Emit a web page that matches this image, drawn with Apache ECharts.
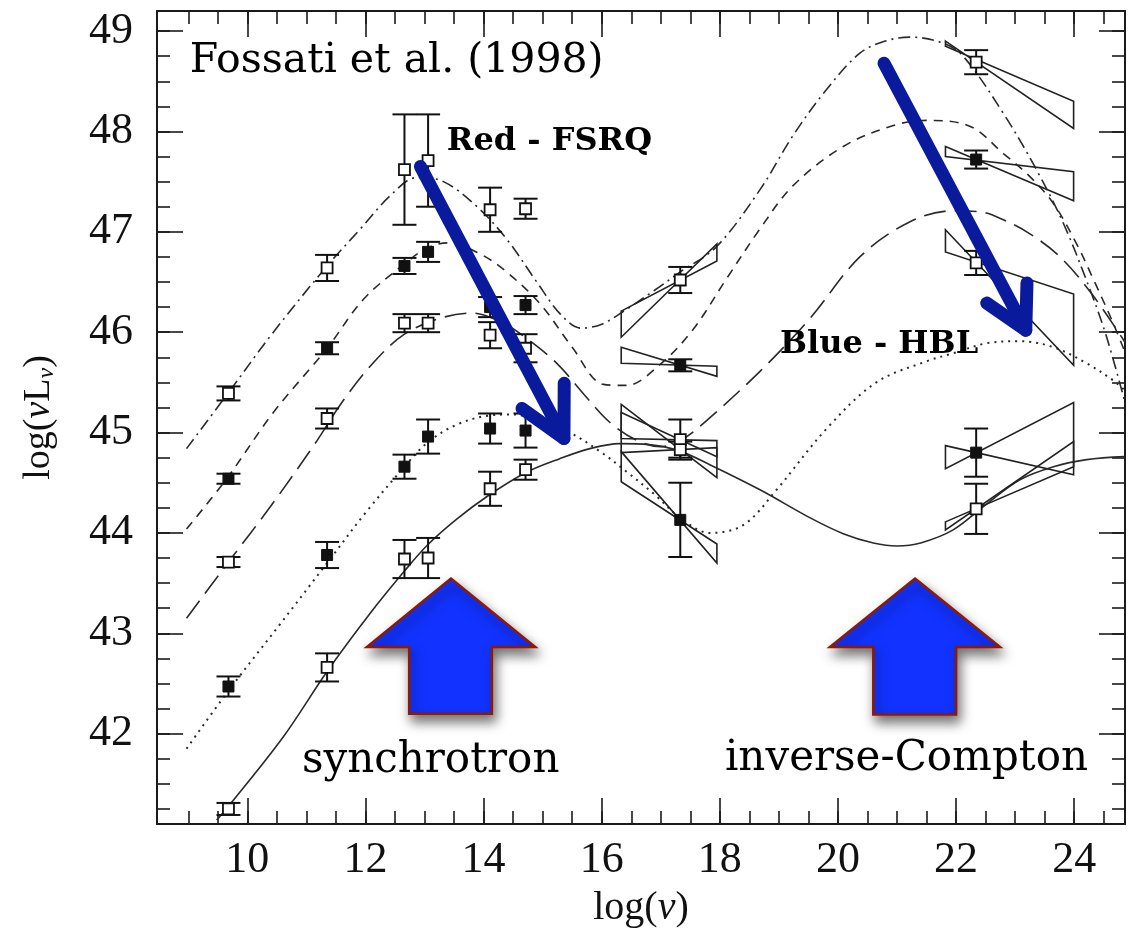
<!DOCTYPE html>
<html><head><meta charset="utf-8">
<script src="https://cdn.jsdelivr.net/npm/echarts@6/dist/echarts.min.js"></script>
<style>html,body{margin:0;padding:0;background:#fff}#c{width:1128px;height:936px}</style>
</head><body><div id="c"></div>
<script>
// ---------- axis ticks ----------
const xMajorTicks = [10, 12, 14, 16, 18, 20, 22, 24];
const xMinorTicks = [9, 9.5, 10, 10.5, 11, 11.5, 12, 12.5, 13, 13.5, 14, 14.5, 15, 15.5, 16, 16.5, 17, 17.5, 18, 18.5, 19, 19.5, 20, 20.5, 21, 21.5, 22, 22.5, 23, 23.5, 24, 24.5];
const yMajorTicks = [42, 43, 44, 45, 46, 47, 48, 49];
const yMinorTicks = [41.25, 41.5, 41.75, 42, 42.25, 42.5, 42.75, 43, 43.25, 43.5, 43.75, 44, 44.25, 44.5, 44.75, 45, 45.25, 45.5, 45.75, 46, 46.25, 46.5, 46.75, 47, 47.25, 47.5, 47.75, 48, 48.25, 48.5, 48.75, 49];

// ---------- model curves [log nu, log nuL_nu] ----------
const curveDashDot = [[8.97,44.84],[9.67,45.39],[10.44,46.0],[11.35,46.66],[11.9,47.02],[12.42,47.36],[12.87,47.54],[13.32,47.5],[13.89,47.25],[14.4,46.92],[14.9,46.5],[15.3,46.18],[15.65,46.04],[16.0,46.08],[16.4,46.22],[16.9,46.42],[17.33,46.6],[17.94,46.85],[18.68,47.42],[19.24,47.96],[19.81,48.42],[20.37,48.78],[20.8,48.9],[21.22,48.94],[21.78,48.88],[22.12,48.75],[22.8,48.18],[23.36,47.62],[23.82,47.08],[24.27,46.42],[24.55,45.95],[24.86,45.3]];
const curveShortDash = [[8.97,44.04],[9.65,44.54],[10.44,45.2],[11.35,45.84],[11.97,46.33],[12.66,46.68],[13.05,46.84],[13.4,46.89],[13.94,46.78],[14.39,46.6],[14.96,46.28],[15.5,45.85],[16.03,45.48],[16.42,45.47],[16.99,45.68],[17.55,46.03],[18.11,46.53],[18.68,47.03],[19.24,47.46],[20.09,47.85],[20.94,48.06],[21.5,48.11],[22.24,48.05],[22.8,47.78],[23.25,47.55],[23.65,47.28],[24.04,46.88],[24.33,46.52],[24.66,46.09],[24.86,45.8]];
const curveLongDash = [[8.97,43.15],[9.68,43.71],[10.4,44.27],[11.18,44.92],[11.6,45.3],[12.14,45.7],[12.66,45.98],[13.27,46.14],[13.8,46.19],[14.3,46.1],[14.68,45.96],[15.24,45.69],[15.7,45.38],[16.14,45.1],[16.6,44.92],[17.0,44.86],[17.33,44.92],[17.66,45.06],[18.68,45.61],[19.53,46.14],[20.37,46.75],[21.22,47.1],[21.95,47.21],[22.4,47.2],[22.8,47.12],[23.25,46.98],[23.76,46.75],[24.3,46.38],[24.86,45.9]];
const curveDotted = [[8.97,41.85],[9.67,42.42],[10.5,43.05],[11.35,43.7],[12.0,44.2],[12.66,44.66],[13.05,44.9],[13.55,45.08],[14.1,45.17],[14.5,45.18],[15.0,45.1],[15.46,45.0],[16.0,44.8],[16.42,44.61],[16.9,44.38],[17.33,44.15],[17.83,44.0],[18.4,44.08],[18.96,44.43],[19.81,45.04],[20.65,45.5],[21.5,45.71],[21.95,45.79],[22.52,45.89],[23.08,45.91],[23.65,45.85],[24.21,45.69],[24.66,45.52],[24.86,45.42]];
const curveSolid = [[9.48,41.14],[9.67,41.27],[10.61,41.97],[11.35,42.62],[12.08,43.2],[12.66,43.62],[13.05,43.88],[13.55,44.14],[14.1,44.38],[14.71,44.6],[15.29,44.74],[15.8,44.84],[16.3,44.89],[16.8,44.88],[17.3,44.82],[17.83,44.68],[18.68,44.43],[19.53,44.15],[20.1,43.99],[20.6,43.9],[21.0,43.87],[21.4,43.9],[21.95,44.03],[22.52,44.29],[23.08,44.53],[23.65,44.66],[24.21,44.73],[24.86,44.76]];

// ---------- data points [log nu, log nuL_nu, error] ----------
const pointsBin1Open = [[9.68,45.39,0.07],[11.35,46.64,0.13],[12.66,47.62,0.55],[13.06,47.71,0.46],[14.11,47.22,0.22],[14.71,47.23,0.10],[17.33,46.52,0.13],[22.34,48.69,0.12]];
const pointsBin2Filled = [[9.68,44.54,0.05],[11.35,45.84,0.06],[12.66,46.66,0.08],[13.06,46.80,0.10],[14.11,46.25,0.10],[14.71,46.27,0.09],[17.33,45.67,0.06],[22.34,47.72,0.09]];
const pointsBin3Open = [[9.68,43.71,0.05],[11.35,45.14,0.10],[12.66,46.09,0.09],[13.06,46.09,0.09],[14.11,45.97,0.13],[14.71,45.84,0.14],[17.33,44.93,0.20],[22.34,46.69,0.12]];
const pointsBin4Filled = [[9.68,42.47,0.10],[11.35,43.78,0.13],[12.66,44.66,0.12],[13.06,44.96,0.17],[14.11,45.04,0.15],[14.71,45.02,0.17],[17.33,44.13,0.37],[22.34,44.80,0.24]];
const pointsBin5Open = [[9.68,41.25,0.06],[11.35,42.66,0.14],[12.66,43.74,0.19],[13.06,43.75,0.20],[14.11,44.44,0.17],[14.71,44.63,0.10],[17.33,44.83,0.08],[22.34,44.24,0.25]];

// ---------- spectral bow-ties [nuLeft, nuRight, lineA left, lineA right, lineB left, lineB right] ----------
const bowtiesXray = [[16.33,17.95,46.21,46.71,45.95,46.88],[16.33,17.95,45.85,45.56,45.69,45.66],[16.33,17.95,45.20,44.76,44.94,44.92],[16.33,17.95,45.28,44.55,44.80,44.85],[16.33,17.95,44.81,43.70,44.51,43.89]];
const bowtiesGamma = [[21.82,23.99,48.90,48.03,48.85,48.30],[21.82,23.99,47.85,47.31,47.75,47.60],[21.82,23.99,47.02,45.67,46.80,46.38],[21.82,23.99,44.87,44.58,44.64,45.30],[21.82,23.99,44.11,44.66,44.03,44.91]];

// ---------- annotations (data coordinates) ----------
const arrowFSRQ = {start:[12.93,47.65], tip:[15.36,44.94], wingL:[14.65,45.24], wingR:[15.365,45.49]};
const arrowHBL = {start:[20.78,48.68], tip:[23.18,46.02], wingL:[22.52,46.29], wingR:[23.20,46.49]};
const bigArrowSync = {tip:[13.446,43.545], headBase:42.863, headL:12.024, headR:14.874, shaftL:12.740, shaftR:14.140, bottom:42.199};
const bigArrowIC = {tip:[21.304,43.545], headBase:42.863, headL:19.865, headR:22.743, shaftL:20.598, shaftR:22.0, bottom:42.192};
const labels = [
  {text:'Fossati et al. (1998)', at:[9.026,48.703], font:'41px "DejaVu Serif"'},
  {text:'Red - FSRQ', at:[13.378,47.90], font:'bold 32px "DejaVu Serif"'},
  {text:'Blue - HBL', at:[19.018,45.871], font:'bold 32px "DejaVu Serif"'},
  {text:'synchrotron', at:[10.923,41.727], font:'42px "DejaVu Serif"'},
  {text:'inverse-Compton', at:[18.086,41.743], font:'42px "DejaVu Serif"'}
];

const X_MIN = 8.47, X_MAX = 24.86, Y_MIN = 41.1, Y_MAX = 49.2;
const INK = '#1a1a1a';
const AXF = 'Liberation Serif';

function xAxisDef(pos, ticks, len, showLabel, showLine, extra) {
  return Object.assign({
    type:'value', position:pos, min:X_MIN, max:X_MAX, gridIndex:0,
    axisLine:{show:showLine, onZero:false, lineStyle:{color:INK, width:2}},
    axisTick:{show:true, inside:true, length:len, customValues:ticks, lineStyle:{color:INK, width:1.6}},
    axisLabel:{show:showLabel, customValues:ticks, fontFamily:AXF, fontSize:44, color:'#111', margin:14},
    splitLine:{show:false}
  }, extra || {});
}
function yAxisDef(pos, ticks, len, showLabel, showLine, extra) {
  return Object.assign({
    type:'value', position:pos, min:Y_MIN, max:Y_MAX, gridIndex:0,
    axisLine:{show:showLine, onZero:false, lineStyle:{color:INK, width:2}},
    axisTick:{show:true, inside:true, length:len, customValues:ticks, lineStyle:{color:INK, width:1.6}},
    axisLabel:{show:showLabel, customValues:ticks, fontFamily:AXF, fontSize:44, color:'#111', margin:24},
    splitLine:{show:false}
  }, extra || {});
}

function curveSeries(data, dash, width) {
  return {type:'line', data:data, xAxisIndex:0, yAxisIndex:0, smooth:0.35, showSymbol:false, symbol:'none',
    lineStyle:{color:'#2a2a2a', width:width || 1.6, type:dash}, z:2, silent:true};
}
function errSeries(data) {
  return {type:'custom', data:data, xAxisIndex:0, yAxisIndex:0, z:4, silent:true,
    encode:{x:0, y:1},
    renderItem:function(params, api){
      const x = api.value(0), y = api.value(1), e = api.value(2);
      const t = api.coord([x, y + e]), b = api.coord([x, y - e]);
      const w = 12, st = {stroke:'#111', lineWidth:2};
      return {type:'group', children:[
        {type:'line', shape:{x1:t[0], y1:t[1], x2:b[0], y2:b[1]}, style:st},
        {type:'line', shape:{x1:t[0]-w, y1:t[1], x2:t[0]+w, y2:t[1]}, style:st},
        {type:'line', shape:{x1:b[0]-w, y1:b[1], x2:b[0]+w, y2:b[1]}, style:st}
      ]};
    }};
}
function pointSeries(data, open) {
  return {type:'scatter', data:data.map(p => [p[0], p[1]]), xAxisIndex:0, yAxisIndex:0, z:5, silent:true,
    symbol:'rect', symbolSize:11,
    itemStyle: open ? {color:'#fff', borderColor:'#111', borderWidth:1.8, opacity:1} : {color:'#111', borderColor:'#111', borderWidth:1, opacity:1}};
}
const bowtieSeries = {type:'custom', data:bowtiesXray.concat(bowtiesGamma), xAxisIndex:0, yAxisIndex:0, z:3, silent:true,
  encode:{x:[0,1], y:[2,3,4,5]},
  renderItem:function(params, api){
    const xl = api.value(0), xr = api.value(1);
    const pts = [api.coord([xl, api.value(2)]), api.coord([xr, api.value(3)]), api.coord([xr, api.value(5)]), api.coord([xl, api.value(4)])];
    return {type:'polygon', shape:{points:pts}, style:{fill:'none', stroke:'#222', lineWidth:1.6}};
  }};

const chart = echarts.init(document.getElementById('c'), null, {renderer:'canvas'});
chart.setOption({
  animation:false,
  backgroundColor:'#fff',
  grid:{left:157, right:3, top:11, bottom:112, containLabel:false},
  xAxis:[
    xAxisDef('bottom', xMajorTicks, 26, true, true, {
      name:'{a|log(}{i|ν}{a|)}', nameLocation:'middle', nameGap:64,
      nameTextStyle:{color:'#111', rich:{a:{fontFamily:AXF, fontSize:40, color:'#111'}, i:{fontFamily:AXF, fontSize:40, fontStyle:'italic', color:'#111'}}}
    }),
    xAxisDef('bottom', xMinorTicks, 13, false, false),
    xAxisDef('top', xMajorTicks, 26, false, true),
    xAxisDef('top', xMinorTicks, 13, false, false)
  ],
  yAxis:[
    yAxisDef('left', yMajorTicks, 26, true, true, {
      name:'{a|log(}{i|ν}{a|L}{s|ν}{a|)}', nameLocation:'middle', nameGap:98,
      nameTextStyle:{color:'#111', rich:{
        a:{fontFamily:AXF, fontSize:38, color:'#111'},
        i:{fontFamily:AXF, fontSize:38, fontStyle:'italic', color:'#111'},
        s:{fontFamily:AXF, fontSize:24, fontStyle:'italic', color:'#111', padding:[16,0,0,0]}
      }}
    }),
    yAxisDef('left', yMinorTicks, 13, false, false),
    yAxisDef('right', yMajorTicks, 26, false, true),
    yAxisDef('right', yMinorTicks, 13, false, false)
  ],
  series:[
    curveSeries(curveDashDot, [12, 5, 2, 5]),
    curveSeries(curveShortDash, [9, 7]),
    curveSeries(curveLongDash, [22, 9]),
    curveSeries(curveDotted, [2, 5], 2),
    curveSeries(curveSolid, 'solid'),
    bowtieSeries,
    errSeries(pointsBin1Open), errSeries(pointsBin2Filled), errSeries(pointsBin3Open), errSeries(pointsBin4Filled), errSeries(pointsBin5Open),
    pointSeries(pointsBin1Open, true), pointSeries(pointsBin2Filled, false), pointSeries(pointsBin3Open, true), pointSeries(pointsBin4Filled, false), pointSeries(pointsBin5Open, true)
  ]
});

// ---------- annotations placed through the axes' scales ----------
const P = p => chart.convertToPixel({xAxisIndex:0, yAxisIndex:0}, p);
function thinArrow(a) {
  const st = {stroke:'#0A1A9C', lineWidth:13, lineCap:'round', lineJoin:'round', fill:null};
  return [
    {type:'polyline', z:100, shape:{points:[P(a.start), P(a.tip)]}, style:st},
    {type:'polyline', z:100, shape:{points:[P(a.wingL), P(a.tip), P(a.wingR)]}, style:st}
  ];
}
function bigArrow(a) {
  const pts = [
    P(a.tip), P([a.headR, a.headBase]), P([a.shaftR, a.headBase]), P([a.shaftR, a.bottom]),
    P([a.shaftL, a.bottom]), P([a.shaftL, a.headBase]), P([a.headL, a.headBase])
  ];
  return {type:'polygon', z:99, shape:{points:pts},
    style:{fill:'#1233FF', stroke:'#8E1A06', lineWidth:2.5, lineJoin:'miter',
      shadowBlur:12, shadowColor:'rgba(0,0,0,0.55)', shadowOffsetX:3, shadowOffsetY:7}};
}
const graphics = [];
graphics.push(bigArrow(bigArrowSync), bigArrow(bigArrowIC));
thinArrow(arrowFSRQ).forEach(g => graphics.push(g));
thinArrow(arrowHBL).forEach(g => graphics.push(g));
labels.forEach(l => {
  const p = P(l.at);
  graphics.push({type:'text', z:101, x:p[0], y:p[1],
    style:{text:l.text, font:l.font, fill:'#000', align:'left', verticalAlign:'middle', textAlign:'left', textVerticalAlign:'middle'}});
});
chart.setOption({graphic:{elements:graphics}});
</script>
</body></html>
